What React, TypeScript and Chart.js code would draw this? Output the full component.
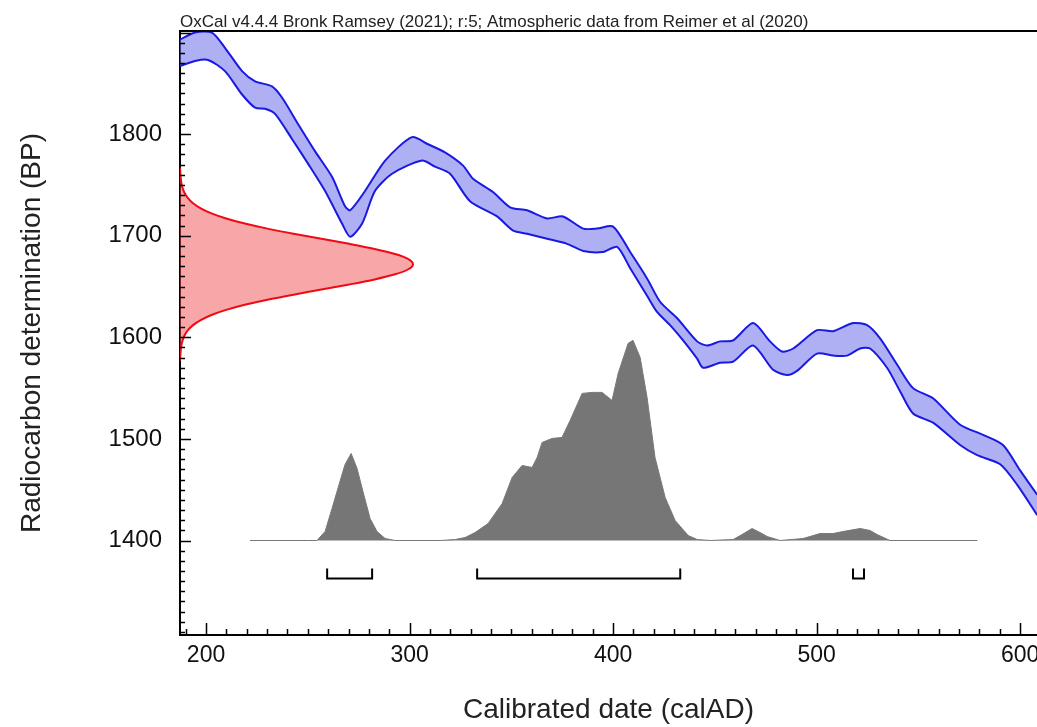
import React, { useEffect, useRef } from 'react';
import { Chart, registerables } from 'chart.js';

Chart.register(...registerables);

// ---------- data ----------
const chartTitle = 'OxCal v4.4.4 Bronk Ramsey (2021); r:5; Atmospheric data from Reimer et al (2020)';
const xTitle = 'Calibrated date (calAD)';
const yTitle = 'Radiocarbon determination (BP)';

const xTickValues = [200, 300, 400, 500, 600];
const yTickValues = [1400, 1500, 1600, 1700, 1800];

// calibration curve (IntCal20), upper and lower 1-sigma envelope
const curveUpperYear = [187.2, 194.6, 202.9, 209.3, 217.7, 224.1, 232.4, 237.3, 245.2, 253.6, 261.9, 268.3, 270.8, 278.1, 288.0, 301.2, 309.1, 317.4, 326.3, 331.2, 341.0, 349.4, 357.7, 367.6, 375.4, 385.3, 392.1, 400.0, 408.4, 416.7, 423.1, 431.4, 441.3, 446.2, 452.6, 459.0, 468.8, 477.1, 483.0, 488.5, 500.2, 508.1, 517.9, 524.8, 531.2, 539.6, 547.4, 557.2, 570.5, 581.8, 591.6, 600.0, 608.4];
const curveUpperBP = [1893, 1900, 1900, 1885, 1862, 1852, 1847, 1836, 1810, 1783, 1758, 1729, 1725, 1744, 1774, 1797, 1790, 1782, 1769, 1756, 1743, 1728, 1725, 1717, 1719, 1707, 1707, 1709, 1684, 1658, 1635, 1619, 1596, 1592, 1596, 1597, 1614, 1596, 1586, 1589, 1607, 1606, 1614, 1612, 1599, 1573, 1550, 1540, 1514, 1504, 1494, 1469, 1445];
const curveLowerYear = [187.2, 194.6, 201.0, 209.3, 217.7, 224.1, 229.0, 233.9, 242.3, 250.1, 258.5, 266.8, 270.8, 276.7, 283.0, 291.4, 306.1, 312.5, 319.9, 329.7, 343.0, 350.9, 357.7, 367.6, 377.4, 385.3, 395.1, 402.0, 408.4, 416.7, 421.6, 428.0, 434.4, 441.3, 444.2, 452.6, 459.0, 468.8, 478.6, 485.5, 490.4, 500.2, 508.1, 515.0, 521.4, 526.3, 534.6, 541.0, 547.4, 557.2, 570.5, 578.9, 590.2, 598.5, 608.4];
const curveLowerBP = [1867, 1872, 1873, 1862, 1839, 1826, 1825, 1820, 1795, 1771, 1744, 1712, 1699, 1712, 1744, 1761, 1774, 1768, 1761, 1734, 1719, 1705, 1702, 1697, 1692, 1685, 1684, 1689, 1668, 1641, 1625, 1612, 1597, 1579, 1570, 1575, 1576, 1592, 1568, 1563, 1567, 1584, 1582, 1582, 1589, 1589, 1570, 1547, 1525, 1516, 1494, 1484, 1475, 1455, 1425];

// radiocarbon measurement distribution (BP, relative probability)
const dateBP = [1767, 1762, 1757, 1752, 1747, 1742, 1737, 1732, 1727, 1722, 1717, 1712, 1707, 1702, 1697, 1692, 1687, 1682, 1677, 1672, 1667, 1662, 1657, 1652, 1647, 1642, 1637, 1632, 1627, 1622, 1617, 1612, 1607, 1602, 1597, 1592, 1587, 1582, 1577];
const dateProb = [0, 0.0015, 0.0031, 0.006, 0.0111, 0.0198, 0.034, 0.056, 0.089, 0.135, 0.198, 0.278, 0.375, 0.487, 0.607, 0.726, 0.835, 0.923, 0.98, 1.0, 0.98, 0.923, 0.835, 0.726, 0.607, 0.487, 0.375, 0.278, 0.198, 0.135, 0.089, 0.056, 0.034, 0.0198, 0.0111, 0.006, 0.0031, 0.0015, 0];

// calibrated (posterior) distribution, calAD and relative probability
const postYear = [221.6, 250.0, 254.5, 258.5, 261.9, 265.8, 268.3, 271.3, 274.2, 277.1, 280.6, 284.0, 288.0, 292.9, 315.0, 322.4, 327.3, 332.2, 338.6, 345.5, 350.4, 355.3, 360.2, 362.7, 365.1, 370.0, 374.9, 378.9, 384.8, 389.7, 394.6, 399.5, 402.5, 407.4, 409.8, 413.3, 416.7, 420.6, 425.6, 430.5, 436.9, 441.3, 447.7, 459.0, 463.4, 468.3, 472.2, 475.7, 482.1, 493.4, 501.7, 508.1, 513.0, 521.4, 526.3, 529.7, 536.1, 579.0];
const postProb = [0, 0, 0, 0.045, 0.16, 0.295, 0.38, 0.435, 0.36, 0.245, 0.11, 0.045, 0.01, 0, 0, 0.005, 0.015, 0.04, 0.085, 0.185, 0.315, 0.375, 0.365, 0.415, 0.49, 0.51, 0.515, 0.6, 0.735, 0.74, 0.74, 0.7, 0.835, 0.985, 1.0, 0.915, 0.715, 0.415, 0.215, 0.1, 0.025, 0.005, 0, 0.005, 0.03, 0.06, 0.04, 0.02, 0, 0.01, 0.035, 0.035, 0.045, 0.06, 0.05, 0.03, 0, 0];

// 95.4% probability ranges (calAD)
const rangeStart = [259.5, 333.2, 517.9];
const rangeEnd = [281.6, 433.0, 523.3];

// ---------- plotting constants ----------
const X_MIN = 187.2;
const X_MAX = 608.3;
const Y_MIN = 1307;
const Y_MAX = 1901.5;
const DATE_WIDTH_YEARS = 114.5; // horizontal extent of measurement curve
const POST_BASE = 1400; // baseline of posterior
const POST_HEIGHT = 197; // BP units for max probability
const RANGE_BAR = 1362.5;
const RANGE_TOP = 1372.5;

const FONT = "'Liberation Sans', Arial, Helvetica, sans-serif";

const decorPlugin = {
  id: 'decor',
  afterDraw(chart: any) {
    const { ctx, chartArea, scales } = chart;
    const xs = scales.x;
    const ys = scales.y;
    ctx.save();
    ctx.strokeStyle = '#000';
    ctx.lineWidth = 2;
    ctx.beginPath();
    ctx.moveTo(chartArea.left - 1, chartArea.top);
    ctx.lineTo(chartArea.right, chartArea.top);
    ctx.stroke();

    ctx.lineWidth = 1.5;
    ctx.beginPath();
    for (let v = Math.ceil(Y_MIN / 10) * 10; v <= Y_MAX; v += 10) {
      const py = Math.round(ys.getPixelForValue(v)) + 0.5;
      const len = v % 100 === 0 ? 11 : 5;
      ctx.moveTo(chartArea.left, py);
      ctx.lineTo(chartArea.left + len, py);
    }
    for (let v = Math.ceil(X_MIN / 10) * 10; v <= X_MAX; v += 10) {
      const px = Math.round(xs.getPixelForValue(v)) + 0.5;
      const len = v % 100 === 0 ? 12 : 6;
      ctx.moveTo(px, chartArea.bottom);
      ctx.lineTo(px, chartArea.bottom - len);
    }
    ctx.stroke();

    ctx.fillStyle = '#222';
    ctx.font = `17px ${FONT}`;
    ctx.textAlign = 'left';
    ctx.textBaseline = 'alphabetic';
    ctx.fillText(chartTitle, chartArea.left, chartArea.top - 4);
    ctx.restore();
  },
};

export default function App() {
  const canvasRef = useRef<HTMLCanvasElement | null>(null);

  useEffect(() => {
    const canvas = canvasRef.current;
    if (!canvas) return;

    const upper = curveUpperYear.map((x, i) => ({ x, y: curveUpperBP[i] }));
    const lower = curveLowerYear.map((x, i) => ({ x, y: curveLowerBP[i] }));
    const measurement = dateBP.map((bp, i) => ({ x: X_MIN + dateProb[i] * DATE_WIDTH_YEARS, y: bp }));
    const posterior = postYear.map((x, i) => ({ x, y: POST_BASE + postProb[i] * POST_HEIGHT }));
    const ranges = rangeStart.map((s, i) => ({
      type: 'line' as const,
      data: [
        { x: s, y: RANGE_TOP },
        { x: s, y: RANGE_BAR },
        { x: rangeEnd[i], y: RANGE_BAR },
        { x: rangeEnd[i], y: RANGE_TOP },
      ],
      borderColor: '#000',
      borderWidth: 2,
      pointRadius: 0,
      fill: false,
      tension: 0,
    }));

    const chart = new Chart(canvas, {
      type: 'line',
      data: {
        datasets: [
          {
            data: measurement,
            borderColor: 'rgb(240,10,20)',
            backgroundColor: 'rgba(240,80,80,0.5)',
            borderWidth: 2,
            pointRadius: 0,
            fill: 'shape',
            tension: 0.3,
          },
          {
            data: upper,
            borderColor: 'rgb(25,25,225)',
            borderWidth: 2,
            pointRadius: 0,
            fill: false,
            tension: 0.25,
          },
          {
            data: lower,
            borderColor: 'rgb(25,25,225)',
            backgroundColor: 'rgba(110,110,235,0.55)',
            borderWidth: 2,
            pointRadius: 0,
            fill: '-1',
            tension: 0.25,
          },
          {
            data: posterior,
            borderColor: 'rgb(120,120,120)',
            backgroundColor: 'rgb(118,118,118)',
            borderWidth: 1,
            pointRadius: 0,
            fill: { value: POST_BASE },
            tension: 0,
          },
          ...ranges,
        ] as any,
      },
      options: {
        responsive: false,
        maintainAspectRatio: false,
        animation: false,
        events: [],
        layout: { padding: { top: 31, left: 0, right: 0, bottom: 0 } },
        plugins: {
          legend: { display: false },
          tooltip: { enabled: false },
          title: { display: false },
        },
        scales: {
          x: {
            type: 'linear',
            position: 'bottom',
            min: X_MIN,
            max: X_MAX,
            afterFit: (s: any) => {
              s.height = 92;
              s.paddingLeft = 0;
              s.paddingRight = 0;
            },
            afterBuildTicks: (s: any) => {
              s.ticks = xTickValues.map((v) => ({ value: v }));
            },
            grid: { display: true, drawOnChartArea: false, drawTicks: false },
            border: { display: true, color: '#000', width: 2 },
            ticks: {
              padding: 7,
              color: '#111',
              font: { family: FONT, size: 23 },
              maxRotation: 0,
              autoSkip: false,
              callback: (v: any) => String(v),
            },
            title: {
              display: true,
              text: xTitle,
              color: '#222',
              font: { family: FONT, size: 28 },
              padding: { top: 0, bottom: 0 },
            },
          },
          y: {
            type: 'linear',
            position: 'left',
            min: Y_MIN,
            max: Y_MAX,
            afterFit: (s: any) => {
              s.width = 180;
              s.paddingTop = 0;
              s.paddingBottom = 0;
            },
            afterBuildTicks: (s: any) => {
              s.ticks = yTickValues.map((v) => ({ value: v }));
            },
            grid: { display: true, drawOnChartArea: false, drawTicks: false },
            border: { display: true, color: '#000', width: 2 },
            ticks: {
              padding: 18,
              color: '#111',
              font: { family: FONT, size: 24 },
              autoSkip: false,
              callback: (v: any) => String(v),
            },
            title: {
              display: true,
              text: yTitle,
              color: '#222',
              font: { family: FONT, size: 28 },
              padding: { top: 15, bottom: 0 },
            },
          },
        },
      },
      plugins: [decorPlugin],
    });

    return () => chart.destroy();
  }, []);

  return (
    <div style={{ position: 'fixed', left: 0, top: 0, width: 1037, height: 727, background: '#fff' }}>
      <canvas ref={canvasRef} width={1037} height={727} style={{ display: 'block' }} />
    </div>
  );
}
